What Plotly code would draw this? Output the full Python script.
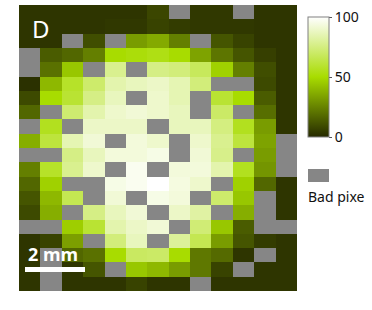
import plotly.graph_objects as go

N = None
row_values = [
    [3, 3, 3, 3, 3, 3, 8, N, 4, 4, N, 3, 3],
    [3, 3, 3, 3, 4, 4, 7, 5, 4, 4, 4, 3, 3],
    [3, 3, N, 10, N, 32, 36, 24, N, 12, 7, 3, 3],
    [N, 14, 17, 24, 50, 52, 54, 50, 34, 21, 12, 6, 3],
    [N, 20, 44, N, 78, N, 76, 74, 68, 47, 24, 10, 3],
    [2, 40, 58, 71, 84, 87, 89, 85, 74, N, N, 9, 3],
    [9, 50, 60, 76, 87, N, 90, 85, N, 60, 50, 14, 3],
    [17, N, 72, 84, 90, 92, 90, 87, N, 70, N, 19, 3],
    [N, 56, N, 89, 89, 89, N, 87, 87, 75, 56, 32, 3],
    [37, 62, 85, 92, N, 93, 90, N, 90, 78, 62, 34, N],
    [N, N, 76, 87, 93, 93, 95, N, 92, 77, N, 32, N],
    [24, 58, 78, 90, N, 97, N, 93, 93, 84, 56, 30, N],
    [17, 47, N, N, 95, 97, 100, 94, 90, N, 47, 17, 3],
    [12, 40, 66, N, 92, N, 95, 93, N, 71, 44, N, 3],
    [9, 37, N, 76, 87, 92, N, 89, 82, N, 37, N, 3],
    [N, N, 46, 60, 84, 89, 92, N, 73, 44, 14, N, N],
    [3, 7, 33, N, 74, 87, N, 80, 66, 32, 12, 5, 3],
    [3, N, 17, 20, 50, 69, 70, 50, 22, 18, 3, N, 3],
    [3, N, 3, 12, N, 44, 40, 32, 22, 7, N, 3, 3],
    [3, N, 3, 3, 3, 7, 3, 3, N, 3, 3, 3, 3],
]
color_stops = [[0, "#262a00"], [0.5, "#a8dc00"], [1, "#ffffff"]]
tick_values = [0, 50, 100]
tick_labels = ["0", "50", "100"]
panel_label = "D"
scale_label = "2 mm"
bad_label = "Bad pixe"
GRAY = "#868686"

L, R, T, B = 19, 297, 5, 291
W, H = 372, 310
pw, ph = R - L, B - T

fig = go.Figure(go.Heatmap(
    z=row_values, zmin=0, zmax=100, colorscale=color_stops, hoverongaps=False,
    colorbar=dict(
        x=(308 - L) / pw, xanchor="left", xpad=0, ypad=0,
        y=(B - 137) / ph, yanchor="bottom",
        len=120, lenmode="pixels", thickness=21, thicknessmode="pixels",
        outlinecolor="#808080", outlinewidth=1, borderwidth=0,
        tickmode="array", tickvals=tick_values, ticktext=tick_labels,
        ticks="outside", ticklen=3, tickcolor="#555555", tickwidth=1,
        tickfont=dict(family="Noto Sans", size=14, color="#111111"),
    ),
))

def px_x(p):
    return (p - L) / pw

def px_y(p):
    return (B - p) / ph

fig.update_layout(
    width=W, height=H, autosize=False,
    margin=dict(l=L, r=W - R, t=T, b=H - B, pad=0),
    paper_bgcolor="white", plot_bgcolor=GRAY,
    xaxis=dict(visible=False, range=[-0.5, 12.5]),
    yaxis=dict(visible=False, range=[19.5, -0.5]),
    shapes=[
        dict(type="rect", xref="paper", yref="paper", x0=px_x(25), x1=px_x(85),
             y0=px_y(272), y1=px_y(267), fillcolor="white", line_width=0),
        dict(type="rect", xref="paper", yref="paper", x0=px_x(308), x1=px_x(329),
             y0=px_y(182), y1=px_y(169), fillcolor=GRAY, line_width=0),
    ],
    annotations=[
        dict(text=panel_label, xref="paper", yref="paper", x=px_x(40.5), y=px_y(28.5),
             showarrow=False, xanchor="center", yanchor="middle",
             font=dict(family="Noto Sans", size=24, color="white")),
        dict(text="<b>" + scale_label + "</b>", xref="paper", yref="paper", x=px_x(52.5), y=px_y(254),
             showarrow=False, xanchor="center", yanchor="middle",
             font=dict(family="Noto Sans", size=18, color="white")),
        dict(text=bad_label, xref="paper", yref="paper", x=px_x(306), y=px_y(196),
             showarrow=False, xanchor="left", yanchor="middle",
             font=dict(family="Noto Sans", size=14, color="#111111")),
    ],
)
fig.write_html("out.html", config=dict(displayModeBar=False),
               post_script="document.body.style.margin='0';")
